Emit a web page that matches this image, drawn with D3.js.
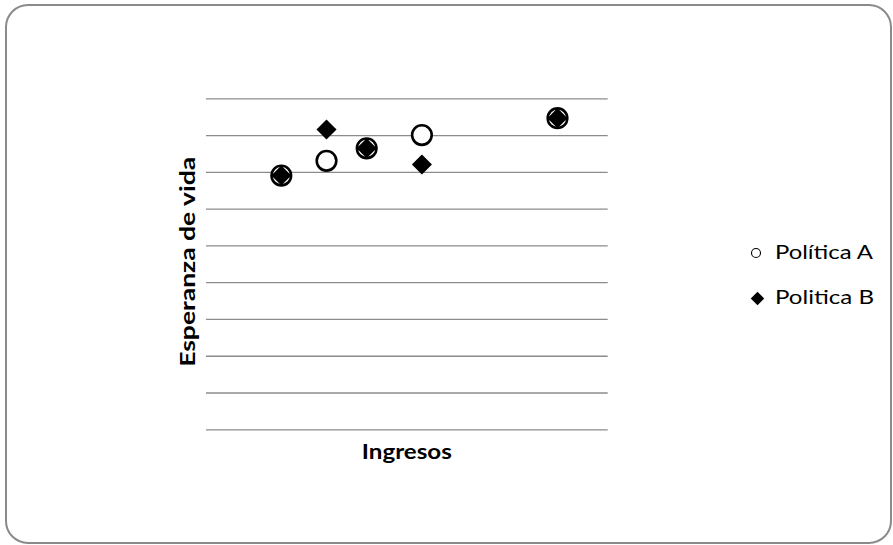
<!DOCTYPE html>
<html>
<head>
<meta charset="utf-8">
<script src="https://cdn.jsdelivr.net/npm/d3@7/dist/d3.min.js"></script>
<style>
  html, body { margin: 0; padding: 0; background: #fff; }
  svg { display: block; }
  text { font-family: Lato, "Open Sans", sans-serif; fill: #000; }
</style>
</head>
<body>
<script>
// Income vs. life expectancy under two policies
const incomeA = [1500, 2400, 3200, 4300, 7000];
const lifeA   = [69, 73, 76.4, 80, 84.6];
const incomeB = [1500, 2400, 3200, 4300, 7000];
const lifeB   = [69, 81.5, 76.4, 72, 84.6];
const yTicks  = [0, 10, 20, 30, 40, 50, 60, 70, 80, 90];
const seriesNames = ["Política A", "Politica B"];
const xTitle = "Ingresos";
const yTitle = "Esperanza de vida";

const W = 893, H = 545;
const plot = { left: 206, right: 607.7, top: 98.3, bottom: 429.3 };

const svg = d3.select("body").append("svg")
  .attr("width", W).attr("height", H);

// chart frame
svg.append("rect")
  .attr("x", 6).attr("y", 5)
  .attr("width", 885).attr("height", 538)
  .attr("rx", 22).attr("ry", 22)
  .attr("fill", "#fff")
  .attr("stroke", "#8a8a8a")
  .attr("stroke-width", 2);

const x = d3.scaleLinear().domain([0, 8000]).range([plot.left, plot.right]);
const y = d3.scaleLinear().domain([0, 90]).range([plot.bottom, plot.top]);

// horizontal gridlines, no tick labels
const yAxis = d3.axisLeft(y)
  .tickValues(yTicks)
  .tickSize(-(plot.right - plot.left))
  .tickFormat("");
const gy = svg.append("g")
  .attr("transform", `translate(${plot.left},0)`)
  .call(yAxis);
gy.select(".domain").remove();
gy.selectAll(".tick line")
  .attr("stroke", "#8c8c8c")
  .attr("stroke-width", 1.3);

// axis titles
svg.append("text")
  .attr("x", (plot.left + plot.right) / 2)
  .attr("y", 459)
  .attr("text-anchor", "middle")
  .attr("font-weight", "bold")
  .attr("font-size", 21)
  .attr("textLength", 90)
  .attr("lengthAdjust", "spacingAndGlyphs")
  .text(xTitle);

svg.append("text")
  .attr("transform", `translate(194.5,${(plot.top + plot.bottom) / 2 - 2}) rotate(-90)`)
  .attr("text-anchor", "middle")
  .attr("font-weight", "bold")
  .attr("font-size", 21)
  .attr("textLength", 210)
  .attr("lengthAdjust", "spacingAndGlyphs")
  .text(yTitle);

// Política A: open circles
svg.append("g").selectAll("circle")
  .data(incomeA.map((v, i) => [v, lifeA[i]]))
  .join("circle")
  .attr("cx", d => x(d[0]))
  .attr("cy", d => y(d[1]))
  .attr("r", 9.8)
  .attr("fill", "#fff")
  .attr("stroke", "#000")
  .attr("stroke-width", 2.6);

// Politica B: filled diamonds (rotated squares)
const dSize = 14.2;
svg.append("g").selectAll("path")
  .data(incomeB.map((v, i) => [v, lifeB[i]]))
  .join("path")
  .attr("transform", d => `translate(${x(d[0])},${y(d[1])}) rotate(45)`)
  .attr("d", d3.symbol().type(d3.symbolSquare).size(dSize * dSize))
  .attr("fill", "#000");

// legend
const lg = svg.append("g");
lg.append("circle")
  .attr("cx", 756).attr("cy", 253).attr("r", 4.5)
  .attr("fill", "#fff").attr("stroke", "#000").attr("stroke-width", 1.1);
lg.append("text")
  .attr("x", 775).attr("y", 259)
  .attr("font-size", 20)
  .attr("textLength", 98)
  .attr("lengthAdjust", "spacingAndGlyphs")
  .text(seriesNames[0]);
lg.append("path")
  .attr("transform", "translate(757.5,298.5) rotate(45)")
  .attr("d", d3.symbol().type(d3.symbolSquare).size(9.5 * 9.5))
  .attr("fill", "#000");
lg.append("text")
  .attr("x", 775).attr("y", 304)
  .attr("font-size", 20)
  .attr("textLength", 99)
  .attr("lengthAdjust", "spacingAndGlyphs")
  .text(seriesNames[1]);
</script>
</body>
</html>
